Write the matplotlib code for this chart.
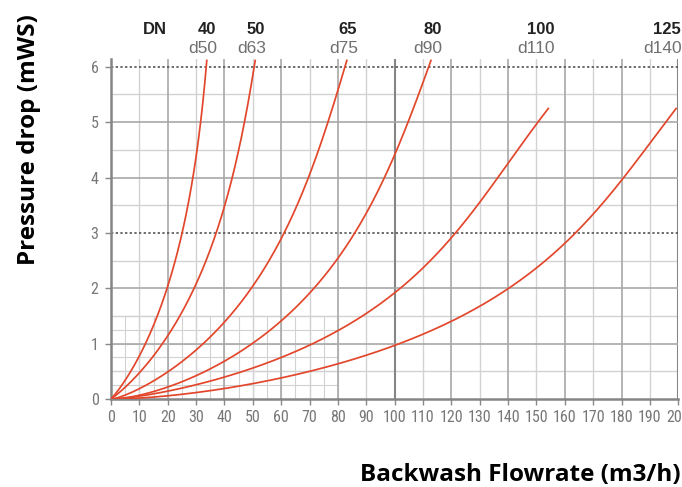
import matplotlib
matplotlib.use("Agg")
import matplotlib.pyplot as plt
import matplotlib.transforms as mtransforms
from matplotlib import font_manager as fm
import numpy as np

# ---------------- data ----------------
dn_labels = ["40", "50", "65", "80", "100", "125"]
d_labels = ["d50", "d63", "d75", "d90", "d110", "d140"]

flow_dn40 = [0, 6.1, 12, 16.6, 20.4, 25, 28.6, 31.4, 33.8]
drop_dn40 = [0, 0.5, 1, 1.5, 2, 3, 4, 5, 6.13]

flow_dn50 = [0, 9.5, 18.4, 29.7, 37.3, 42.5, 46.7, 50.9]
drop_dn50 = [0, 0.5, 1, 2, 3, 4, 5, 6.13]

flow_dn65 = [0, 11, 21.4, 33.2, 49, 60.3, 69.7, 77.4, 83.2]
drop_dn65 = [0, 0.25, 0.5, 1, 2, 3, 4, 5, 6.13]

flow_dn80 = [0, 21.4, 33.2, 50.9, 70.5, 86, 91.5, 96.8, 100.8, 104.7, 108.4, 112.9]
drop_dn80 = [0, 0.25, 0.5, 1, 2, 3, 3.5, 4, 4.5, 5, 5.5, 6.13]

flow_dn100 = [0, 15, 28.5, 48, 60, 73, 80, 98.5, 120, 129.5, 138.3, 145.3, 151.2, 154.2]
drop_dn100 = [0, 0.12, 0.25, 0.5, 0.7, 1, 1.25, 2, 3, 3.5, 4, 4.5, 5, 5.26]

flow_dn125 = [0, 15, 28, 49, 60, 80, 100, 120, 140, 160, 172.4, 181, 189, 195, 199.4]
drop_dn125 = [0, 0.05, 0.12, 0.22, 0.39, 0.61, 0.98, 1.46, 1.98, 2.78, 3.5, 4, 4.5, 5, 5.26]

flows = [flow_dn40, flow_dn50, flow_dn65, flow_dn80, flow_dn100, flow_dn125]
drops = [drop_dn40, drop_dn50, drop_dn65, drop_dn80, drop_dn100, drop_dn125]

x_ticks = list(range(0, 201, 10))
y_ticks = list(range(0, 7))

x_label = "Backwash Flowrate (m3/h)"
y_label = "Pressure drop (mWS)"


# ---------------- helpers ----------------
def _fit(s, fx, powers, ss):
    w = np.ones_like(s)
    w[-1] = 4.0
    A = np.column_stack([s**p for p in powers])
    coef, *_ = np.linalg.lstsq(A * w[:, None], fx * w, rcond=None)
    return np.column_stack([ss**p for p in powers]) @ coef


def smooth_curve(fx, dy, n=300):
    """Smooth least-squares curve through the read points, x as a function of sqrt(y)."""
    fx = np.asarray(fx, float)
    dy = np.asarray(dy, float)
    s = np.sqrt(dy)
    ss = np.linspace(0, s[-1], n)
    xs = _fit(s, fx, [1, 2, 3, 4], ss)
    if xs[1:].min() < 0 or np.any(np.diff(xs) < 0):
        xs = _fit(s, fx, [2, 3, 4], ss)
    return xs, ss**2


names = {f.name for f in fm.fontManager.ttflist}


def pick(cands, default="DejaVu Sans"):
    for c in cands:
        if c in names:
            return c
    return default


tick_font = pick(["Liberation Sans Narrow", "Roboto Condensed", "DejaVu Sans Condensed",
                  "Open Sans Condensed", "Noto Sans Condensed", "Roboto"])
head_font = pick(["Liberation Sans", "Roboto"])
title_font = pick(["Open Sans", "Lato"])
tick_size = 11.5 if tick_font != "Roboto" else 10

# ---------------- figure ----------------
W, H = 682, 487
fig = plt.figure(figsize=(W / 100, H / 100), dpi=100)
ax = fig.add_axes([111 / W, 1 - 399 / H, 567.3 / W, (399 - 58.5) / H])
ax.set_xlim(0, 200)
ax.set_ylim(0, 6.15)

light = "#d2d2d2"
mid = "#a8a8a8"
dark = "#858585"

# fine grid in lower-left region
for xv in np.arange(5, 81, 5):
    ax.vlines(xv, 0, 1.5, color=light, lw=0.8, zorder=1)
for yv in np.arange(0.25, 1.51, 0.25):
    ax.hlines(yv, 0, 80, color=light, lw=0.8, zorder=1)

# vertical grid
for xv in x_ticks[1:]:
    if xv in (100, 200):
        ax.axvline(xv, color=dark, lw=1.5, zorder=2)
    elif xv % 20 == 0:
        ax.axvline(xv, color=mid, lw=1.2, zorder=2)
    else:
        ax.axvline(xv, color=light, lw=1.0, zorder=1.5)

# horizontal grid
for yv in np.arange(0.5, 6.01, 0.5):
    if yv in (3.0, 6.0):
        ax.axhline(yv, color="#555555", lw=1.2, ls=(0, (1.4, 1.4)), zorder=2.5)
    elif float(yv).is_integer():
        ax.axhline(yv, color=mid, lw=1.2, zorder=2)
    else:
        ax.axhline(yv, color=light, lw=1.0, zorder=1.5)

# curves
curve_color = "#e2472c"
ends = []
for fx, dy in zip(flows, drops):
    xs, ys = smooth_curve(fx, dy)
    ax.plot(xs, ys, color=curve_color, lw=1.25, zorder=4, solid_capstyle="butt")
    ends.append(fx[-1])

# spines
for s in ("top", "right"):
    ax.spines[s].set_visible(False)
for s in ("left", "bottom"):
    ax.spines[s].set_color(dark)
    ax.spines[s].set_linewidth(1.8)
    ax.spines[s].set_zorder(3)

ax.set_xticks(x_ticks)
ax.set_yticks(y_ticks)
ax.tick_params(axis="both", length=4, width=1, color="#888888", labelcolor="#777777",
               labelsize=tick_size)
ax.tick_params(axis="x", pad=4)
ax.tick_params(axis="y", pad=5)
for lab in ax.get_xticklabels() + ax.get_yticklabels():
    lab.set_fontfamily(tick_font)

# header labels above curves
trans = mtransforms.blended_transform_factory(ax.transData, fig.transFigure)
shift_px = [0, 0, 1, 1, -8, -10]
for xe, dn, dd, sh in zip(ends, dn_labels, d_labels, shift_px):
    off = mtransforms.offset_copy(trans, fig=fig, x=sh * 0.72, y=0, units="points")
    off2 = mtransforms.offset_copy(trans, fig=fig, x=(sh - 4) * 0.72, y=0, units="points")
    ax.text(xe, 1 - 29 / H, dn, transform=off, ha="center", va="center",
            fontsize=12, fontweight="bold", color="#222222", family=head_font)
    ax.text(xe, 1 - 48.5 / H, dd, transform=off2, ha="center", va="center",
            fontsize=12.5, color="#707070", family=head_font)
fig.text(155 / W, 1 - 29 / H, "DN", ha="center", va="center", fontsize=12,
         fontweight="bold", color="#222222", family=head_font)

# axis titles
fig.text(29 / W, 1 - 140 / H, y_label, rotation=90, ha="center", va="center",
         fontsize=17.5, fontweight="bold", color="black", family=title_font)
fig.text(681 / W, 1 - 475 / H, x_label, ha="right", va="center",
         fontsize=17.5, fontweight="bold", color="black", family=title_font)

fig.savefig("out.png", dpi=100)
